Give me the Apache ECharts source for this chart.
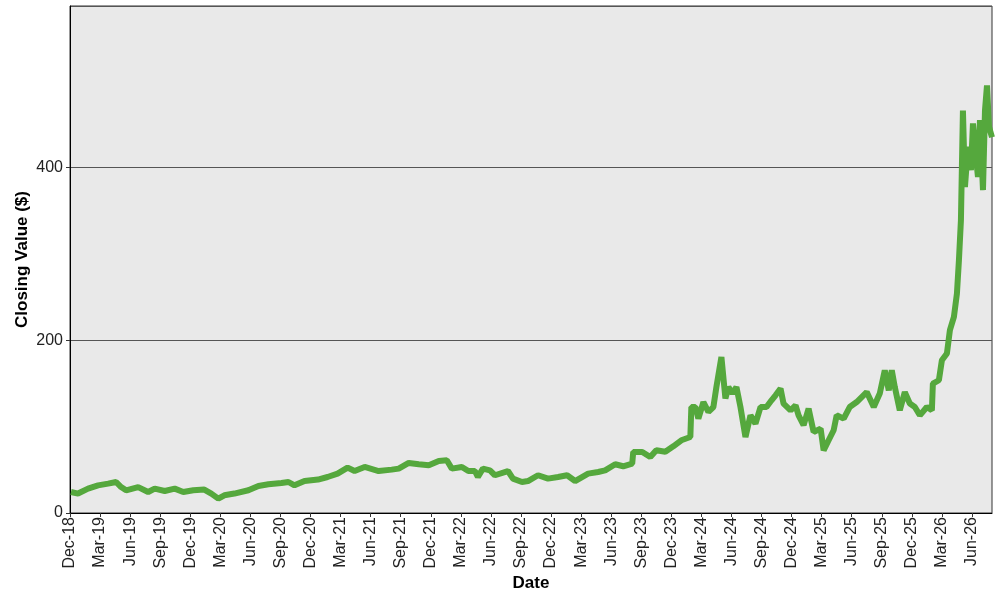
<!DOCTYPE html>
<html>
<head>
<meta charset="utf-8">
<script src="https://cdn.jsdelivr.net/npm/echarts@6/dist/echarts.min.js"></script>
<style>
html,body{margin:0;padding:0;background:#fff;}
#chart{width:1000px;height:600px;}
</style>
</head>
<body>
<div id="chart"></div>
<script>
// x positions: months elapsed since 1 Dec 2018
const monthsSinceDec18 = [
  0.1,0.8,1.8,2.8,3.8,4.6,5.1,5.6,6.8,7.8,8.45,9.45,10.45,11.3,12.3,13.4,14.1,14.8,15.4,16.4,
  17.8,18.8,19.8,21.1,21.8,22.4,23.4,24.75,25.7,26.7,27.7,28.4,29.4,
  30.8,32.1,32.8,33.8,34.8,35.8,36.8,37.6,38.1,39.1,39.75,40.4,40.7,41.2,41.9,42.4,43.7,44.2,
  45.1,45.7,46.7,47.7,48.7,49.6,50.4,51.7,52.7,53.4,54.4,55.2,56.1,56.2,57.1,57.9,58.5,59.4,
  60.2,61.0,61.9,62.0,62.4,62.7,63.2,63.7,64.2,64.5,65.0,65.4,65.7,66.1,66.5,66.9,67.4,67.9,
  68.4,68.9,69.5,70.0,70.4,70.9,71.2,71.9,72.4,72.7,73.2,73.7,74.2,74.9,75.2,75.7,76.2,76.5,
  77.2,77.8,78.5,79.5,80.2,80.8,81.3,81.7,82.0,82.3,82.8,83.3,83.8,84.3,84.8,85.5,86.0,86.1,
  86.7,87.0,87.5,87.8,88.2,88.5,88.7,88.9,89.1,89.3,89.6,89.9,90.1,90.4,90.6,90.8,91.1,91.3,
  91.5,91.7,92.0
];
const closingValues = [
  24.3,22.5,28.2,32,34,35.9,30,26.3,30,24.3,28.2,25.5,28.2,24.3,26.3,27.1,22.5,16.7,20.5,22.5,
  26.3,31.3,33.2,34.7,35.9,32,37,38.7,41.7,45.6,52.6,48.6,53.3,
  48.6,50.2,51.4,57.9,56.4,55.2,60.2,61,51.4,53.3,48.6,48.6,41.7,51.4,49.4,43.7,48.6,39.8,
  35.9,37,43.7,39.8,41.7,43.7,37,45.6,47.5,49.4,56.4,54.1,57.2,70.6,70.6,64.8,72.6,71,
  77.2,84.2,88,122.7,122.7,109.3,128.5,117,122.7,145.9,180.6,132.5,145.9,138.3,145.9,122.7,88,113.1,
  103.5,122.7,122.7,130.5,136.3,144,126.7,118.9,124.7,113.1,101.6,120.9,93.8,97.7,72.6,84.2,95.8,113.1,
  109.3,122.7,128.5,140,122.7,138.3,165.2,142,165.2,145.9,118.9,140,126.7,122.7,113.1,122.7,118.9,149.8,
  153.7,176.8,184.6,211.6,227,254,292.6,339,466,377.5,424,397,451,412,389,455,373.7,466,
  495,447,435
];
const quarterLabels = [
  'Dec-18','Mar-19','Jun-19','Sep-19','Dec-19','Mar-20','Jun-20','Sep-20','Dec-20',
  'Mar-21','Jun-21','Sep-21','Dec-21','Mar-22','Jun-22','Sep-22','Dec-22','Mar-23',
  'Jun-23','Sep-23','Dec-23','Mar-24','Jun-24','Sep-24','Dec-24','Mar-25','Jun-25',
  'Sep-25','Dec-25','Mar-26','Jun-26'
];
const yTicks = [0, 200, 400];

const seriesData = monthsSinceDec18.map((m, i) => [m, closingValues[i]]);

const chart = echarts.init(document.getElementById('chart'));
chart.setOption({
  animation: false,
  backgroundColor: '#ffffff',
  grid: {
    left: 70, top: 6, right: 8, bottom: 87,
    show: true, backgroundColor: '#e9e9e9', borderColor: '#333', borderWidth: 1
  },
  xAxis: {
    type: 'value', min: 0, max: 92, interval: 3,
    name: 'Date', nameLocation: 'middle', nameGap: 62,
    nameMoveOverlap: false,
    nameTextStyle: { fontFamily: 'Liberation Sans, Arial', fontWeight: 'bold', fontSize: 17, color: '#000' },
    axisLine: { show: true, lineStyle: { color: '#000', width: 1 } },
    axisTick: { show: true, length: 4, lineStyle: { color: '#333' } },
    splitLine: { show: false },
    axisLabel: {
      rotate: 90, margin: 4, fontSize: 16, color: '#222',
      fontFamily: 'Liberation Sans, Arial',
      showMaxLabel: false,
      formatter: v => (Math.abs(v % 3) < 1e-9 && quarterLabels[v / 3]) ? quarterLabels[v / 3] : ''
    }
  },
  yAxis: {
    type: 'value', min: 0, max: 587, interval: 200,
    name: 'Closing Value ($)', nameLocation: 'middle', nameGap: 39,
    nameMoveOverlap: false,
    nameTextStyle: { fontFamily: 'Liberation Sans, Arial', fontWeight: 'bold', fontSize: 17, color: '#000' },
    axisLine: { show: true, lineStyle: { color: '#000', width: 1 } },
    axisTick: { show: true, length: 4, lineStyle: { color: '#333' } },
    splitLine: { show: true, lineStyle: { color: '#555', width: 1 } },
    axisLabel: {
      margin: 7, fontSize: 16, color: '#222',
      fontFamily: 'Liberation Sans, Arial',
      showMaxLabel: false,
      formatter: v => yTicks.includes(v) ? String(v) : ''
    }
  },
  series: [{
    type: 'line',
    data: seriesData,
    showSymbol: false,
    symbol: 'none',
    lineStyle: { color: '#55a83d', width: 6, join: 'bevel' },
    clip: true
  }]
});
</script>
</body>
</html>
